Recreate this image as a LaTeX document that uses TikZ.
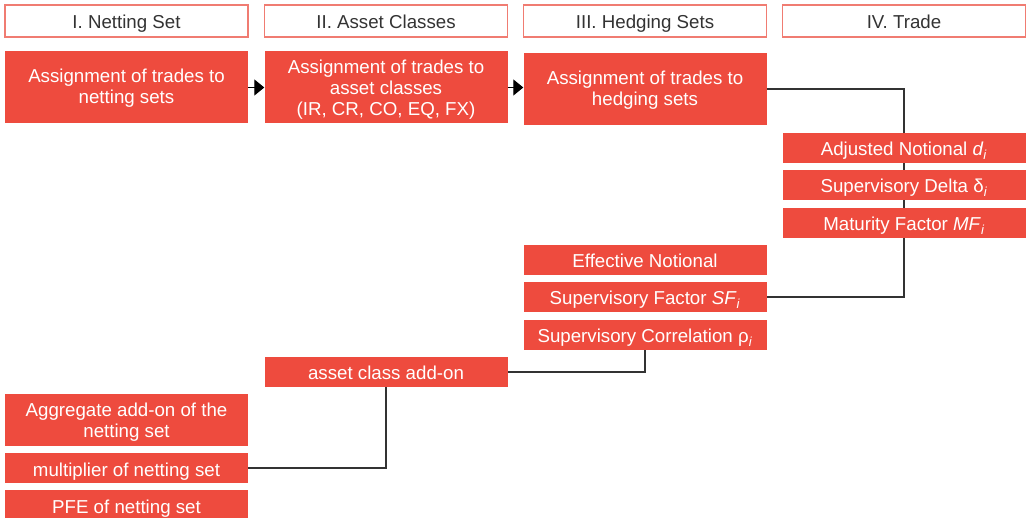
\documentclass[tikz,border=0pt]{standalone}
\usepackage{fontspec}
\setmainfont{Liberation Sans}
\usetikzlibrary{arrows.meta}
\definecolor{boxred}{HTML}{EE4B3E}
\definecolor{hdrline}{HTML}{F07C72}
\definecolor{ink}{HTML}{333333}
\newcommand{\subi}{\textsubscript{\textit{i}}}
\begin{document}
\begin{tikzpicture}[x=1pt, y=-1pt,
    hdr/.style={draw=hdrline, line width=1.2pt, fill=white, text=ink,
      minimum width=243pt, minimum height=32pt, inner sep=0pt,
      text height=16pt, text depth=0pt,
      font=\fontsize{18.7}{21}\selectfont},
    redbox/.style={fill=boxred, text=white, minimum width=243pt,
      minimum height=30pt, inner sep=0pt, align=center,
      text height=16pt, text depth=0pt,
      font=\fontsize{18.7}{21}\selectfont},
    link/.style={draw=ink, line width=1.2pt},
    flow/.style={-{Triangle[length=10pt, width=16pt]}, line width=1.2pt}]
    \useasboundingbox (0,0) rectangle (1031,518);

    % column headers
    \node[hdr] (h1) at (126.5,21) {I. Netting Set};
    \node[hdr] (h2) at (386,21) {II. Asset Classes};
    \node[hdr] (h3) at (645,21) {III. Hedging Sets};
    \node[hdr] (h4) at (904,21) {IV. Trade};

    % assignment steps
    \node[redbox, minimum height=72pt, text height=33pt] (ns) at (126.5,87.5)
      {Assignment of trades to\\netting sets};
    \node[redbox, minimum height=72pt, text height=56pt] (ac) at (386,87.5)
      {Assignment of trades to\\asset classes\\(IR, CR, CO, EQ, FX)};
    \node[redbox, minimum height=72pt, text height=33pt] (hs) at (645,89)
      {Assignment of trades to\\hedging sets};

    % trade level
    \node[redbox] (adj) at (904,148) {Adjusted Notional \textit{d}\subi};
    \node[redbox] (del) at (904,185) {Supervisory Delta δ\subi};
    \node[redbox] (mf) at (904,223) {Maturity Factor \textit{MF}\subi};

    % hedging set level
    \node[redbox] (en) at (645,260) {Effective Notional};
    \node[redbox] (sf) at (645,297) {Supervisory Factor \textit{SF}\subi};
    \node[redbox] (cor) at (645,335) {Supervisory Correlation ρ\subi};

    % asset class and netting set level
    \node[redbox] (add) at (386,372) {asset class add-on};
    \node[redbox, minimum height=52pt, text height=35pt] (agg) at (126.5,420)
      {Aggregate add-on of the\\netting set};
    \node[redbox] (mult) at (126.5,468) {multiplier of netting set};
    \node[redbox] (pfe) at (126.5,505) {PFE of netting set};

    \draw[flow] (ns.east) -- (ac.west |- ns.east);
    \draw[flow] (ac.east) -- (hs.west |- ac.east);

    \draw[link] (hs.east) -| (adj.north);
    \draw[link] (adj.south) -- (del.north);
    \draw[link] (del.south) -- (mf.north);
    \draw[link] (mf.south) |- (sf.east);
    \draw[link] (cor.south) |- (add.east);
    \draw[link] (add.south) |- (mult.east);
\end{tikzpicture}
\end{document}
